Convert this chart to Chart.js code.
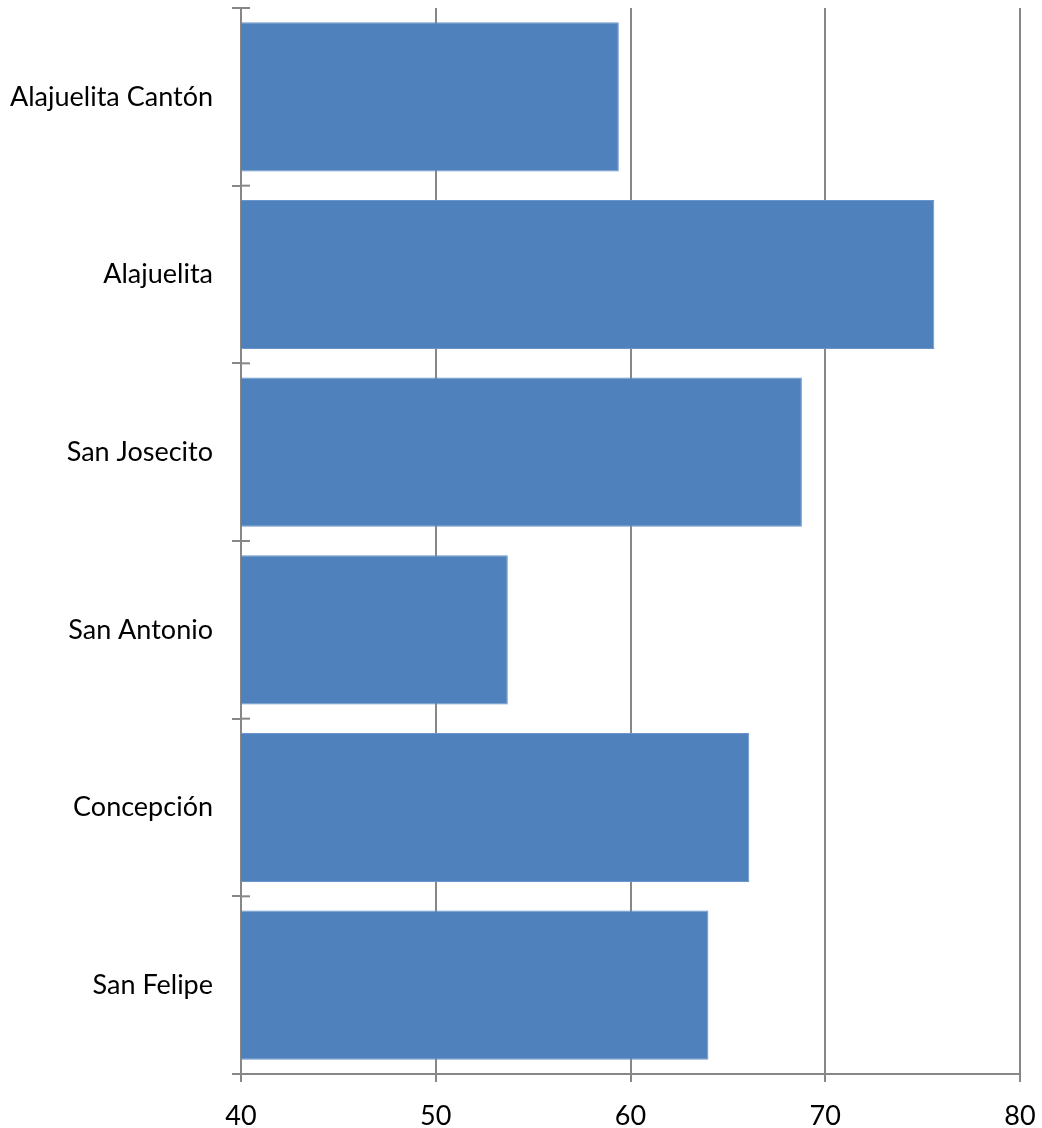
<!DOCTYPE html>
<html>
<head>
<meta charset="utf-8">
<script src="https://cdn.jsdelivr.net/npm/chart.js@4.4.1/dist/chart.umd.min.js"></script>
<style>
html,body{margin:0;padding:0;background:#fff;}
#wrap{width:1042px;height:1128px;position:relative;}
</style>
</head>
<body>
<div id="wrap"><canvas id="c"></canvas></div>
<script>
const categories = ["Alajuelita Cantón", "Alajuelita", "San Josecito", "San Antonio", "Concepción", "San Felipe"];
const values = [59.4, 75.6, 68.8, 53.7, 66.1, 64.0];
const xTicks = [40, 50, 60, 70, 80];

const GRID = '#878787';
const FONT = 'Lato, "Open Sans", sans-serif';

const innerTicks = {
  id: 'innerTicks',
  afterDatasetsDraw(chart) {
    const ys = chart.scales.y;
    const ctx = chart.ctx;
    const n = ys.ticks.length;
    const half = (ys.getPixelForTick(1) - ys.getPixelForTick(0)) / 2;
    ctx.save();
    ctx.strokeStyle = GRID;
    ctx.lineWidth = 2;
    for (let i = 0; i <= n; i++) {
      const y = i < n ? ys.getPixelForTick(i) - half : ys.getPixelForTick(n - 1) + half;
      ctx.beginPath();
      ctx.moveTo(ys.right, y);
      ctx.lineTo(ys.right + 9, y);
      ctx.stroke();
    }
    ctx.restore();
  }
};

new Chart(document.getElementById('c'), {
  type: 'bar',
  data: {
    labels: categories,
    datasets: [{
      data: values,
      backgroundColor: '#4F81BD',
      borderColor: '#6A95CB',
      borderWidth: 1,
      barPercentage: 0.84,
      categoryPercentage: 1.0
    }]
  },
  options: {
    indexAxis: 'y',
    responsive: true,
    maintainAspectRatio: false,
    animation: false,
    layout: { padding: { top: 8, right: 22, left: 0, bottom: 0 } },
    plugins: { legend: { display: false }, tooltip: { enabled: false } },
    scales: {
      x: {
        type: 'linear',
        min: xTicks[0],
        max: xTicks[xTicks.length - 1],
        afterBuildTicks: (s) => { s.ticks = xTicks.map(v => ({ value: v })); },
        afterFit: (s) => { s.height = 54; s.paddingLeft = 0; s.paddingRight = 0; },
        grid: { color: GRID, lineWidth: 2, tickLength: 8, tickColor: GRID },
        border: { color: GRID, width: 2 },
        ticks: { color: '#000', font: { family: FONT, size: 27 }, padding: 18 }
      },
      y: {
        type: 'category',
        afterFit: (s) => { s.width = 241; s.paddingTop = 0; s.paddingBottom = 0; },
        grid: { display: true, drawOnChartArea: false, offset: true, tickLength: 9, color: GRID, lineWidth: 2 },
        border: { color: GRID, width: 2 },
        ticks: { color: '#000', font: { family: FONT, size: 27 }, padding: 19 }
      }
    }
  },
  plugins: [innerTicks]
});
</script>
</body>
</html>
